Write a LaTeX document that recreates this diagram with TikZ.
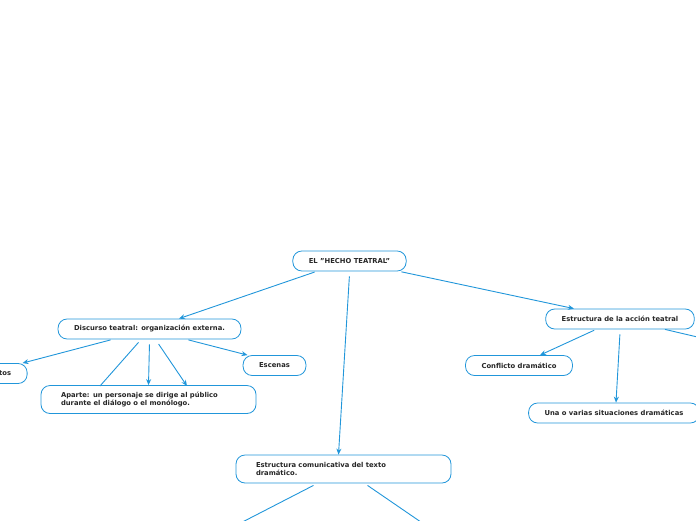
\documentclass[tikz,border=0pt]{standalone}
\usepackage{fontspec}
\setmainfont{DejaVu Sans}
\usetikzlibrary{arrows.meta, positioning}
\definecolor{mapblue}{RGB}{33,150,218}

\begin{document}
\begin{tikzpicture}[
    x=1pt, y=-1pt,
    font=\fontsize{6.8}{8.8}\selectfont\bfseries,
    topic/.style={rectangle, draw=mapblue, line width=0.8pt, rounded corners=9pt, fill=white,
        text=black!85, inner xsep=16pt, inner ysep=0pt, minimum height=20pt},
    longtopic/.style={topic, align=left, text width=175pt, inner xsep=20pt, minimum height=28pt},
    arrow/.style={-{Stealth[length=6pt, width=5pt]}, draw=mapblue, line width=0.9pt, shorten <=2pt}
]
\useasboundingbox (0,0) rectangle (696,520);
\clip (0,0) rectangle (696,520);

% Root
\node[topic] (root) at (349.5,261) {EL "HECHO TEATRAL"};

% Discurso teatral
\node[topic] (discurso) at (149.5,329) {Discurso teatral: organización externa.};
\node[topic] (actos) at (0.5,373.5) {Actos};
\node[topic] (escenas) at (274.5,365.5) {Escenas};
\node[longtopic] (aparte) at (148.5,399.5) {Aparte: un personaje se dirige al público\\durante el diálogo o el monólogo.};

% Estructura de la accion
\node[topic] (accion) at (620,319) {Estructura de la acción teatral};
\node[topic] (conflicto) at (519,365.5) {Conflicto dramático};
\node[topic] (situaciones) at (614,413) {Una o varias situaciones dramáticas};

% Estructura comunicativa
\node[longtopic] (comunicativa) at (343.5,469) {Estructura comunicativa del texto\\dramático.};

% Branches leaving the picture
\coordinate (accionout) at (740,347);
\coordinate (comleft) at (225,531);
\coordinate (comright) at (434,531);
\coordinate (hiddenleft) at (100,386);
\coordinate (hiddenright) at (187,386);

% Arrows
\draw[arrow] ([xshift=-33pt]root.south) -- ([xshift=29.5pt]discurso.north);
\draw[arrow] ([xshift=0pt]root.south) ++(0,3) -- ([xshift=-5pt]comunicativa.north);
\draw[arrow] ([xshift=50pt]root.south) -- ([xshift=-46pt]accion.north);
\draw[arrow] ([xshift=-37pt]discurso.south) -- ([xshift=22pt]actos.north);
\draw[arrow] ([xshift=37pt]discurso.south) -- ([xshift=-27pt]escenas.north);
\draw[draw=mapblue, line width=0.9pt] ([xshift=-11pt]discurso.south) ++(0,3) -- (hiddenleft);
\draw[arrow] (discurso.south) ++(0,3) -- (aparte.north);
\draw[arrow] ([xshift=8pt]discurso.south) ++(0,3) -- (hiddenright);
\draw[arrow] ([xshift=-24pt]accion.south) -- ([xshift=21pt]conflicto.north);
\draw[arrow] (accion.south) ++(0,3) -- ([xshift=2pt]situaciones.north);
\draw[draw=mapblue, line width=0.9pt] ([xshift=45pt]accion.south) -- (accionout);
\draw[draw=mapblue, line width=0.9pt] ([xshift=-30pt]comunicativa.south) ++(0,2) -- (comleft);
\draw[draw=mapblue, line width=0.9pt] ([xshift=24pt]comunicativa.south) ++(0,2) -- (comright);

\end{tikzpicture}
\end{document}
